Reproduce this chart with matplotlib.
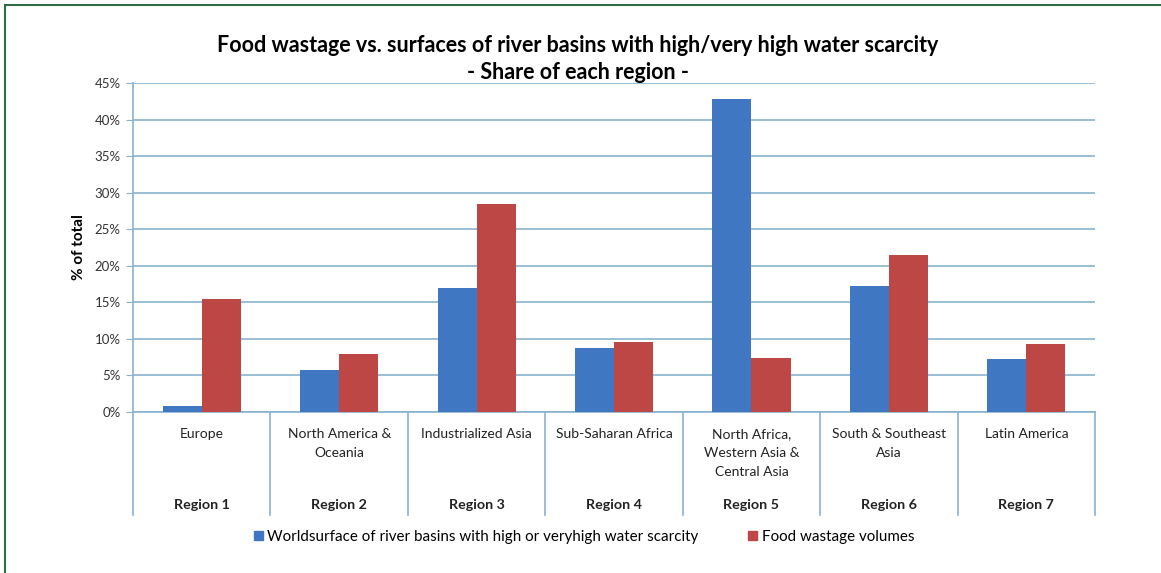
import matplotlib.pyplot as plt
from matplotlib.lines import Line2D
from matplotlib.patches import Patch
import numpy as np

plt.rcParams['font.family'] = ['Lato', 'DejaVu Sans']

regions = ["Region 1", "Region 2", "Region 3", "Region 4",
           "Region 5", "Region 6", "Region 7"]
areas = ["Europe", "North America &\nOceania", "Industrialized Asia",
         "Sub-Saharan Africa", "North Africa,\nWestern Asia &\nCentral Asia",
         "South & Southeast\nAsia", "Latin America"]
water_scarcity = [0.8, 5.7, 17.0, 8.7, 42.8, 17.2, 7.3]
food_wastage = [15.4, 7.9, 28.5, 9.6, 7.4, 21.5, 9.3]
yticks = [0, 5, 10, 15, 20, 25, 30, 35, 40, 45]

blue = "#3f77c2"
red = "#bd4744"
grid = "#86b3cf"

fig = plt.figure(figsize=(11.61, 5.73), dpi=100)
ax = fig.add_axes([0.1146, 0.281, 0.8286, 0.5741])

x = np.arange(len(regions))
w = 0.284
ax.bar(x - w / 2, water_scarcity, w, color=blue, zorder=3)
ax.bar(x + w / 2, food_wastage, w, color=red, zorder=3)

ax.set_xlim(-0.5, len(regions) - 0.5)
ax.set_ylim(0, 45)
ax.set_yticks(yticks)
ax.set_yticklabels([f"{t}%" for t in yticks], fontsize=9.5, color="#333333")
ax.yaxis.grid(True, color=grid, linewidth=1.2, zorder=0)
ax.tick_params(axis="y", length=5, color=grid, pad=4)
ax.set_xticks([])
for s in ["top", "right"]:
    ax.spines[s].set_visible(False)
ax.spines["left"].set_color(grid)
ax.spines["bottom"].set_color(grid)
ax.spines["left"].set_linewidth(1.2)
ax.spines["bottom"].set_linewidth(1.2)

# multi-level category axis
depth = -0.313
trans = ax.get_xaxis_transform()
for b in np.arange(len(regions) + 1) - 0.5:
    ax.plot([b, b], [0, depth], transform=trans, color=grid,
            linewidth=1.2, clip_on=False)
for i in range(len(regions)):
    ax.text(i, -0.05, areas[i], transform=trans, ha="center", va="top",
            fontsize=10, color="#222222", linespacing=1.7)
    ax.text(i, -0.283, regions[i], transform=trans, ha="center",
            va="center", fontsize=10.3, fontweight="bold", color="#222222")

ax.set_ylabel("% of total", fontsize=11, fontweight="bold", labelpad=6)

fig.text(0.498, 0.921, "Food wastage vs. surfaces of river basins with high/very high water scarcity",
         ha="center", va="center", fontsize=15.5, fontweight="bold")
fig.text(0.498, 0.873, "- Share of each region -",
         ha="center", va="center", fontsize=15.5, fontweight="bold")

handles = [Patch(color=blue), Patch(color=red)]
labels = ["Worldsurface of river basins with high or veryhigh water scarcity",
          "Food wastage volumes"]
fig.legend(handles, labels, loc="center", bbox_to_anchor=(0.503, 0.063),
           ncol=2, frameon=False, fontsize=10.9, handlelength=0.6,
           handleheight=0.6, handletextpad=0.3, columnspacing=3.3)

# green frame on top and left
fig.add_artist(Line2D([5 / 1161, 1], [1 - 5 / 573, 1 - 5 / 573],
                      transform=fig.transFigure, color="#2f6b47", linewidth=1.5))
fig.add_artist(Line2D([5 / 1161, 5 / 1161], [0, 1 - 5 / 573],
                      transform=fig.transFigure, color="#2f6b47", linewidth=1.5))

fig.savefig("out.png", dpi=100)
